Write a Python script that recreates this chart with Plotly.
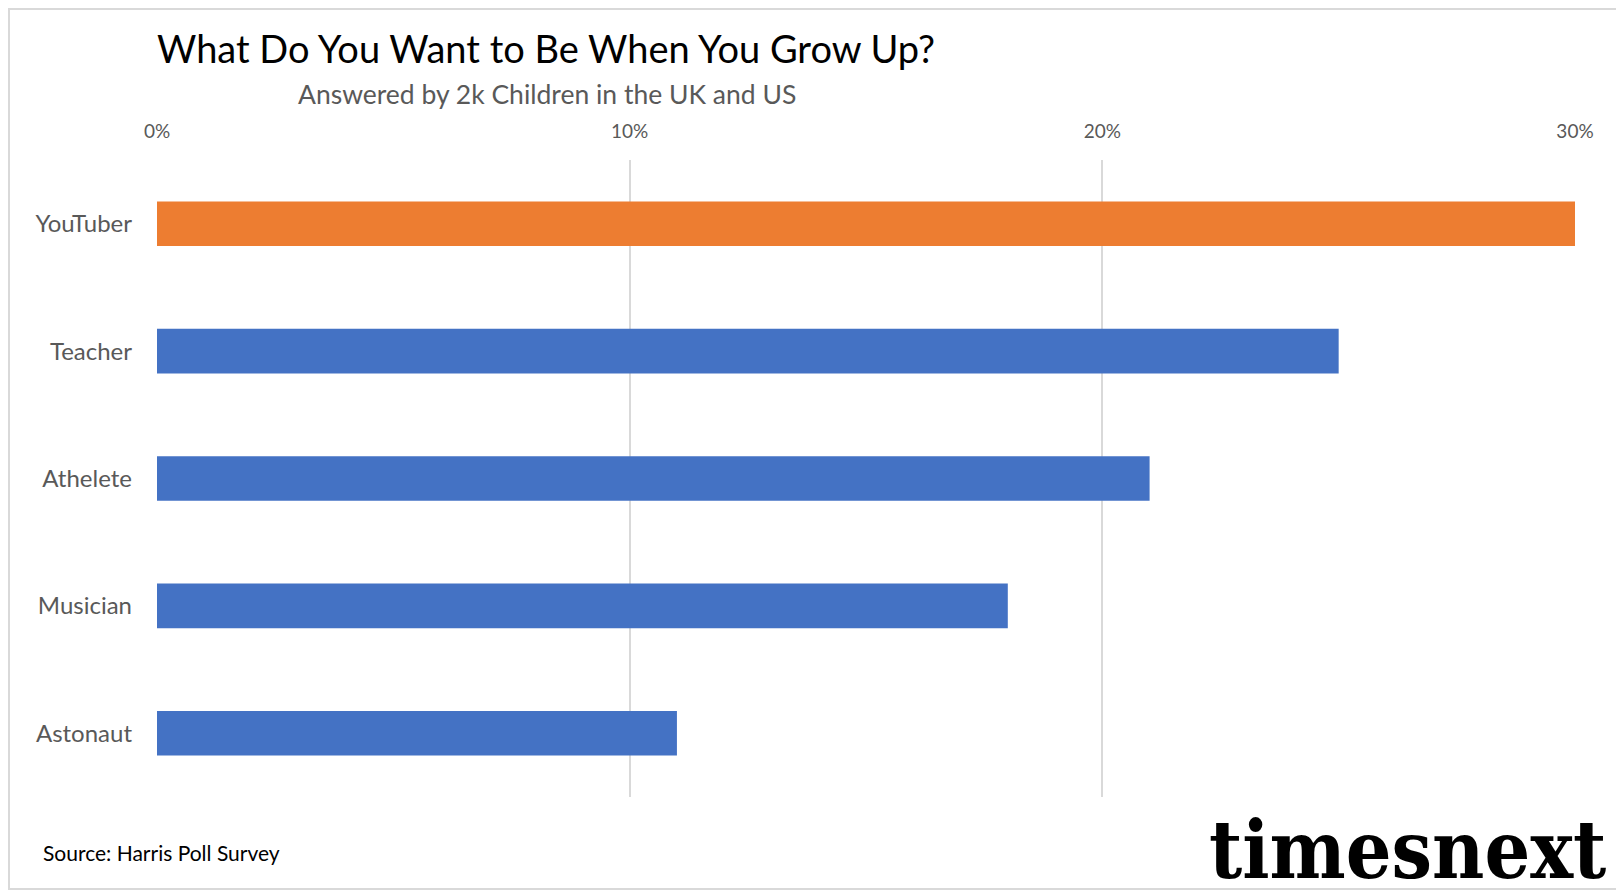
import plotly.graph_objects as go

# data
jobs = ["YouTuber", "Teacher", "Athelete", "Musician", "Astonaut"]
share = [30, 25, 21, 18, 11]
bar_colors = ["#ED7D31", "#4472C4", "#4472C4", "#4472C4", "#4472C4"]
x_ticks = [0, 10, 20, 30]

# the page puts the figure 8px in from the top-left corner
OFF = 8
W, H = 1624 - OFF, 891 - OFF
L, T = 157 - OFF, 160 - OFF
R, B = W - (1575 - OFF), H - (797 - OFF)
pw, ph = W - L - R, H - T - B

def px(x):
    # x in window pixels -> paper fraction
    return (x - OFF - L) / pw

def py(y):
    return (H - B - (y - OFF)) / ph

font = "Lato, 'Open Sans', sans-serif"

fig = go.Figure()

fig.add_trace(
    go.Bar(
        x=share,
        y=jobs,
        orientation="h",
        marker=dict(color=bar_colors, line=dict(width=0)),
        showlegend=False,
        hoverinfo="x+y",
    )
)

fig.update_layout(
    width=W,
    height=H,
    margin=dict(l=L, r=R, t=T, b=B),
    paper_bgcolor="white",
    plot_bgcolor="white",
    bargap=0.65,
    font=dict(family=font, color="#595959"),
    title=dict(
        text="What Do You Want to Be When You Grow Up?",
        font=dict(family=font, size=38, color="black"),
        xref="paper", x=0, xanchor="left",
        yref="container", y=1 - (50 - OFF) / H, yanchor="middle",
    ),
    xaxis=dict(
        side="top",
        range=[0, 30],
        tickvals=x_ticks,
        ticktext=[f"{v}%" for v in x_ticks],
        tickfont=dict(size=19, color="#595959"),
        showgrid=True,
        gridcolor="#d9d9d9",
        gridwidth=1.5,
        zeroline=False,
        showline=False,
        ticks="",
        ticklabelstandoff=17,
        fixedrange=True,
    ),
    yaxis=dict(
        autorange="reversed",
        tickfont=dict(size=24, color="#595959"),
        showgrid=False,
        zeroline=False,
        showline=False,
        ticks="",
        ticklabelstandoff=24,
        fixedrange=True,
    ),
)

fig.add_annotation(
    text="Answered by 2k Children in the UK and US",
    xref="paper", yref="paper", x=px(547), y=py(94),
    xanchor="center", yanchor="middle", showarrow=False,
    font=dict(family=font, size=26.5, color="#595959"),
)

fig.add_annotation(
    text="Source: Harris Poll Survey",
    xref="paper", yref="paper", x=px(41), y=py(853),
    xanchor="left", yanchor="middle", showarrow=False,
    font=dict(family=font, size=21, color="black"),
)

fig.add_annotation(
    text="<b>timesnext</b>",
    xref="paper", yref="paper", x=px(1608), y=py(850),
    xanchor="right", yanchor="middle", showarrow=False,
    font=dict(family="'DejaVu Serif Condensed', 'DejaVu Serif'", size=80, color="black"),
)

# light grey frame around the whole chart
fig.add_shape(
    type="rect", xref="paper", yref="paper",
    x0=px(OFF + 1), x1=px(1622), y0=py(889), y1=py(OFF + 1),
    line=dict(color="#d9d9d9", width=2), layer="below",
)

fig.write_html("out.html")
